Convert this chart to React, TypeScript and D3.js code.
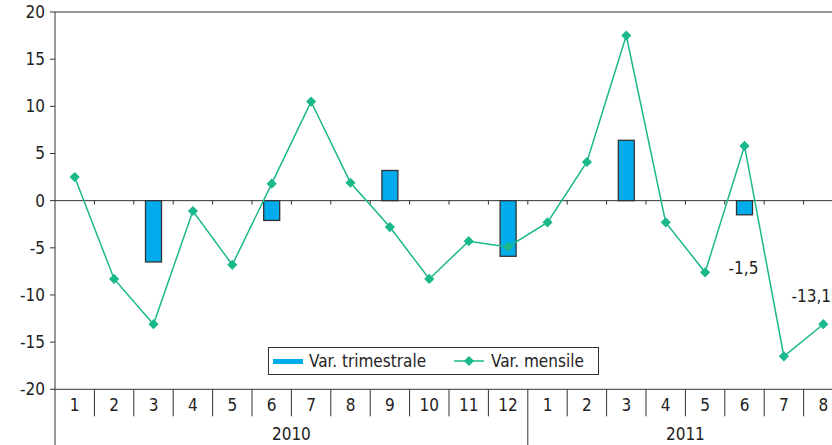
import React from "react";
import * as d3 from "d3";

const months = ["1","2","3","4","5","6","7","8","9","10","11","12","1","2","3","4","5","6","7","8"];
const years = ["2010", "2011"];
const yearSpans = [12, 8];
const mensile = [2.5, -8.3, -13.1, -1.1, -6.8, 1.8, 10.5, 1.9, -2.8, -8.3, -4.3, -4.9, -2.3, 4.1, 17.5, -2.3, -7.6, 5.8, -16.5, -13.1];
const trimestrale: (number | null)[] = [null, null, -6.5, null, null, -2.1, null, null, 3.2, null, null, -5.9, null, null, 6.4, null, null, -1.5, null, null];
const yTicks = [-20, -15, -10, -5, 0, 5, 10, 15, 20];
const labels = [
  { idx: 17, text: "-1,5", value: -1.5 },
  { idx: 19, text: "-13,1", value: -13.1 },
];

const W = 832, H = 445;
const left = 55, top = 12, bottom = 389.3;
const band = 39.4;
const FONT = "'DejaVu Sans Condensed', 'Liberation Sans', sans-serif";
const LINE = "#1BB88C";
const BAR = "#00ACEC";
const AX = "#333";

export default function App() {
  const x = d3.scaleBand<number>().domain(d3.range(months.length)).range([left, left + band * months.length]).paddingInner(0).paddingOuter(0);
  const y = d3.scaleLinear().domain([-20, 20]).range([bottom, top]);
  const cx = (i: number) => (x(i) as number) + x.bandwidth() / 2;
  const line = d3.line<number>().x((_, i) => cx(i)).y((d) => y(d));
  const barW = 16;
  const diamond = d3.symbol().type(d3.symbolSquare).size(52)();
  const right = left + band * months.length;

  let acc = 0;
  const yearPos = yearSpans.map((s) => {
    const a = acc; acc += s;
    return { start: left + a * band, end: left + acc * band };
  });

  return (
    <svg width={W} height={H} style={{ position: "absolute", left: 0, top: 0, fontFamily: FONT }}>
      <rect width={W} height={H} fill="#fff" />
      {/* top border */}
      <line x1={left} x2={right} y1={top} y2={top} stroke={AX} strokeWidth={1} />
      {/* y axis */}
      <line x1={left} x2={left} y1={top} y2={H} stroke={AX} strokeWidth={1} />
      {yTicks.map((t) => (
        <g key={t}>
          <line x1={left - 5} x2={left} y1={y(t)} y2={y(t)} stroke={AX} />
          <text x={left - 10} y={y(t)} dy="0.35em" textAnchor="end" fontSize={17} fill="#222">{t}</text>
        </g>
      ))}
      {/* bottom axis */}
      <line x1={left} x2={right} y1={bottom} y2={bottom} stroke={AX} />
      {months.map((_, i) => i > 0 && (
        <line key={"s" + i} x1={x(i)} x2={x(i)} y1={bottom} y2={i === 12 ? H : bottom + 27} stroke={AX} />
      ))}
      {months.map((m, i) => (
        <text key={"m" + i} x={cx(i)} y={bottom + 22} textAnchor="middle" fontSize={17} fill="#222">{m}</text>
      ))}
      {years.map((yr, i) => (
        <text key={yr} x={(yearPos[i].start + yearPos[i].end) / 2} y={bottom + 51} textAnchor="middle" fontSize={17} fill="#222">{yr}</text>
      ))}
      {/* zero line */}
      <line x1={left} x2={right} y1={y(0)} y2={y(0)} stroke={AX} />
      {months.map((_, i) => i > 0 && (
        <line key={"z" + i} x1={x(i)} x2={x(i)} y1={y(0)} y2={y(0) + 4} stroke={AX} />
      ))}
      {/* bars */}
      {trimestrale.map((v, i) => v === null ? null : (
        <rect key={"b" + i} x={cx(i) - barW / 2} y={Math.min(y(v), y(0))} width={barW} height={Math.abs(y(v) - y(0))} fill={BAR} stroke={AX} strokeWidth={1.3} />
      ))}
      {/* line */}
      <path d={line(mensile) || ""} fill="none" stroke={LINE} strokeWidth={1.5} />
      {mensile.map((v, i) => (
        <path key={"p" + i} d={diamond || ""} transform={`translate(${cx(i)},${y(v)}) rotate(45)`} fill={LINE} />
      ))}
      {/* labels */}
      <text x={cx(labels[0].idx) - 1} y={y(0) + 73} textAnchor="middle" fontSize={17} fill="#222">{labels[0].text}</text>
      <text x={W - 1} y={y(labels[1].value) - 22} textAnchor="end" fontSize={17} fill="#222">{labels[1].text}</text>
      {/* legend */}
      <g>
        <rect x={268.5} y={347.5} width={330} height={27} fill="#fff" stroke={AX} />
        <rect x={273} y={359} width={30} height={5} fill={BAR} />
        <text x={309} y={361} dy="0.35em" fontSize={17} fill="#222">Var. trimestrale</text>
        <line x1={454} x2={484} y1={361} y2={361} stroke={LINE} strokeWidth={1.5} />
        <path d={diamond || ""} transform="translate(469,361) rotate(45)" fill={LINE} />
        <text x={491} y={361} dy="0.35em" fontSize={17} fill="#222">Var. mensile</text>
      </g>
    </svg>
  );
}
